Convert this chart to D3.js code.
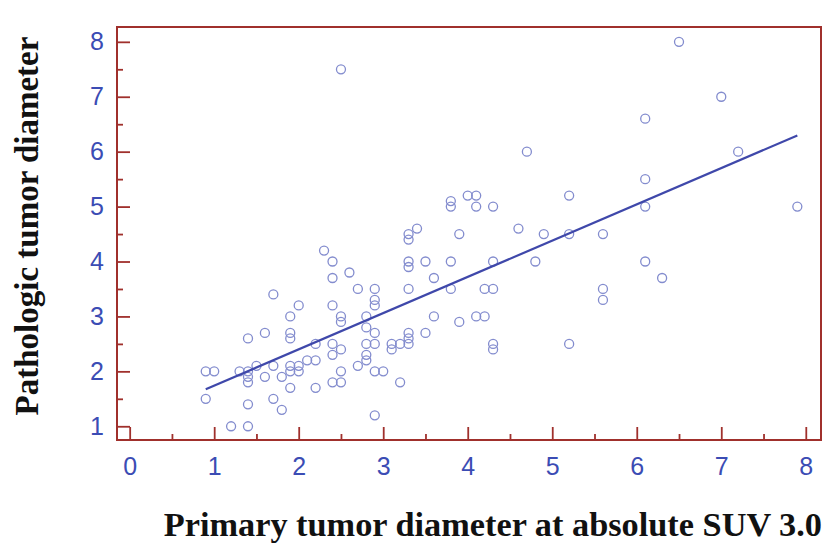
<!DOCTYPE html>
<html>
<head>
<meta charset="utf-8">
<title>Scatter plot</title>
<script src="https://cdnjs.cloudflare.com/ajax/libs/d3/7.8.5/d3.min.js"></script>
<style>
  body { margin: 0; background: #fff; }
  .tick text { font-family: "Liberation Sans", Arial, sans-serif; font-size: 25px; fill: #3b4cb4; }
  .title { font-family: "Liberation Serif", "Times New Roman", serif; font-weight: bold; font-size: 33px; fill: #111; }
</style>
</head>
<body>
<script>
// primary tumor diameter at absolute SUV 3.0 (x) vs pathologic diameter (y)
var xs = [0.9, 1.0, 0.9, 1.2, 1.4, 1.4, 1.4, 1.4, 1.4, 1.3, 1.4, 1.5, 1.6, 1.6, 1.7, 1.7, 1.7, 1.8, 1.8, 1.9,
          1.9, 1.9, 2.0, 1.9, 2.0, 1.9, 2.0, 1.9, 2.1, 2.2, 2.2, 2.2,
          2.3, 2.4, 2.4, 2.6, 2.7, 2.9, 2.9, 2.9, 2.4, 2.5, 2.5, 2.8, 2.8, 2.9, 2.9, 2.8, 2.8, 2.8,
          2.7, 2.9, 3.0, 2.4, 2.4, 2.5, 2.5, 2.4, 2.5, 2.9, 3.1, 3.2, 3.1, 3.2, 2.5,
          3.3, 3.3, 3.4, 3.3, 3.3, 3.5, 3.3, 3.6, 3.8, 3.8, 3.3, 3.3, 3.3, 3.5, 3.6, 3.9, 3.9, 3.8, 3.8,
          4.0, 4.1, 4.1, 4.3, 4.1, 4.2, 4.2, 4.3, 4.3, 4.3, 4.3,
          4.7, 4.6, 4.9, 5.2, 5.2, 5.6, 4.8, 5.6, 5.6, 5.2, 6.1, 6.1, 6.1, 6.1, 6.3, 6.5, 7.0, 7.2, 7.9];
var ys = [2.0, 2.0, 1.5, 1.0, 1.0, 1.4, 1.8, 1.9, 2.0, 2.0, 2.6, 2.1, 2.7, 1.9, 3.4, 2.1, 1.5, 1.9, 1.3, 3.0,
          2.7, 2.6, 3.2, 2.1, 2.1, 2.0, 2.0, 1.7, 2.2, 2.2, 2.5, 1.7,
          4.2, 4.0, 3.7, 3.8, 3.5, 3.5, 3.3, 3.2, 3.2, 3.0, 2.9, 3.0, 2.8, 2.7, 2.5, 2.5, 2.3, 2.2,
          2.1, 2.0, 2.0, 2.5, 2.3, 2.4, 2.0, 1.8, 1.8, 1.2, 2.5, 2.5, 2.4, 1.8, 7.5,
          4.5, 4.4, 4.6, 4.0, 3.9, 4.0, 3.5, 3.7, 4.0, 3.5, 2.7, 2.6, 2.5, 2.7, 3.0, 2.9, 4.5, 5.1, 5.0,
          5.2, 5.2, 5.0, 5.0, 3.0, 3.0, 3.5, 3.5, 4.0, 2.5, 2.4,
          6.0, 4.6, 4.5, 5.2, 4.5, 4.5, 4.0, 3.5, 3.3, 2.5, 6.6, 5.5, 5.0, 4.0, 3.7, 8.0, 7.0, 6.0, 5.0];

// regression line
var fitIntercept = 1.08, fitSlope = 0.66;

var xTicks = [0, 1, 2, 3, 4, 5, 6, 7, 8];
var yTicks = [1, 2, 3, 4, 5, 6, 7, 8];
var xMinor = [0.5, 1.5, 2.5, 3.5, 4.5, 5.5, 6.5, 7.5];
var yMinor = [1.5, 2.5, 3.5, 4.5, 5.5, 6.5, 7.5];

var W = 824, H = 545;
var pLeft = 117, pRight = 821, pTop = 27, pBottom = 440;
var axisColor = "#a0302c";

var svg = d3.select("body").append("svg")
    .attr("width", W)
    .attr("height", H);

var x = d3.scaleLinear().domain([-0.15, 8.18]).range([pLeft, pRight]);
var y = d3.scaleLinear().domain([0.75, 8.27]).range([pBottom, pTop]);

// minor ticks
svg.append("g")
    .attr("transform", "translate(0," + pBottom + ")")
    .call(d3.axisBottom(x).tickValues(xMinor).tickSize(-6).tickFormat(""));
svg.append("g")
    .attr("transform", "translate(" + pLeft + ",0)")
    .call(d3.axisLeft(y).tickValues(yMinor).tickSize(-6).tickFormat(""));

// major ticks + labels
svg.append("g")
    .attr("class", "x-axis")
    .attr("transform", "translate(0," + pBottom + ")")
    .call(d3.axisBottom(x).tickValues(xTicks).tickSize(-13).tickPadding(17).tickFormat(d3.format("d")));
svg.append("g")
    .attr("class", "y-axis")
    .attr("transform", "translate(" + pLeft + ",0)")
    .call(d3.axisLeft(y).tickValues(yTicks).tickSize(-13).tickPadding(13).tickFormat(d3.format("d")));

svg.selectAll(".domain").remove();
svg.selectAll(".tick line").attr("stroke", axisColor).attr("stroke-width", 1.8);
svg.selectAll(".x-axis text").attr("dy", "0.71em");

// frame
svg.append("rect")
    .attr("x", pLeft)
    .attr("y", pTop)
    .attr("width", pRight - pLeft)
    .attr("height", pBottom - pTop)
    .attr("fill", "none")
    .attr("stroke", axisColor)
    .attr("stroke-width", 2);

// points
var pts = xs.map(function(d, i) { return { x: d, y: ys[i] }; });
svg.append("g")
    .selectAll("circle")
    .data(pts)
    .enter().append("circle")
    .attr("cx", function(d) { return x(d.x); })
    .attr("cy", function(d) { return y(d.y); })
    .attr("r", 4.5)
    .attr("fill", "none")
    .attr("stroke", "#838cce")
    .attr("stroke-width", 1.3);

// regression line over the data range
var xr = d3.extent(xs);
var line = d3.line()
    .x(function(d) { return x(d); })
    .y(function(d) { return y(fitIntercept + fitSlope * d); });
svg.append("path")
    .attr("d", line(xr))
    .attr("fill", "none")
    .attr("stroke", "#3f48aa")
    .attr("stroke-width", 2.2);

// titles
svg.append("text")
    .attr("class", "title")
    .attr("x", 822)
    .attr("y", 536)
    .attr("text-anchor", "end")
    .style("font-size", "34.3px")
    .text("Primary tumor diameter at absolute SUV 3.0");

svg.append("text")
    .attr("class", "title")
    .attr("transform", "translate(38," + ((40 + 412) / 2) + ") rotate(-90)")
    .attr("text-anchor", "middle")
    .text("Pathologic tumor diameter");
</script>
</body>
</html>
